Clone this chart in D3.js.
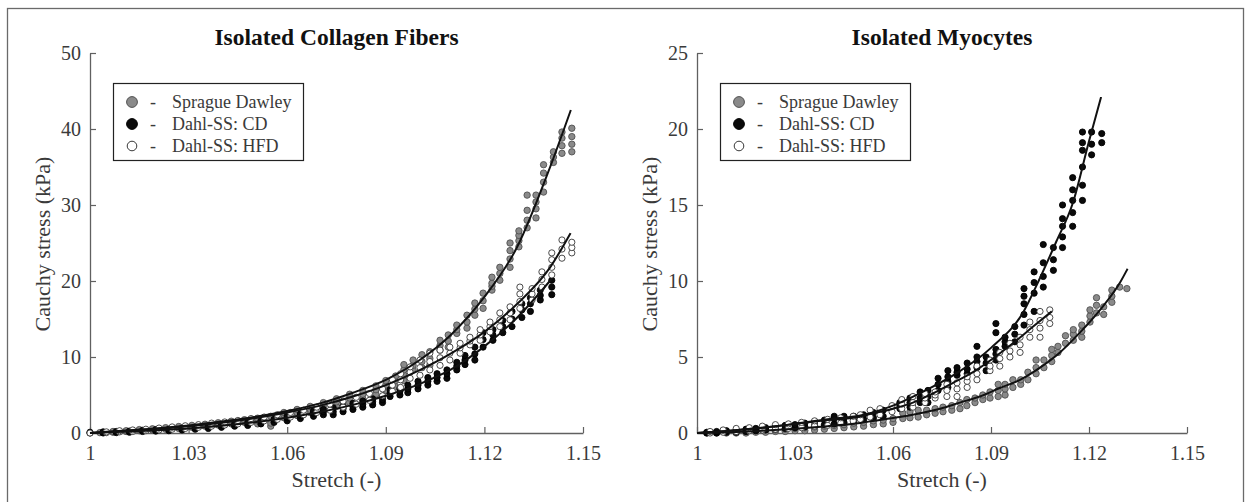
<!DOCTYPE html>
<html><head><meta charset="utf-8">
<script src="https://cdn.jsdelivr.net/npm/d3@7"></script>
<style>
body{margin:0;background:#fff;}
svg{display:block;font-family:"Liberation Serif","Times New Roman",serif;}
</style>
</head><body>
<svg id="c" width="1251" height="502"></svg>
<script>
// ---------- shared labels ----------
const seriesNames = ["Sprague Dawley", "Dahl-SS: CD", "Dahl-SS: HFD"];
const xTicks = [1, 1.03, 1.06, 1.09, 1.12, 1.15];
const fibersYTicks = [0, 10, 20, 30, 40, 50];
const myoYTicks = [0, 5, 10, 15, 20, 25];
const titles = ["Isolated Collagen Fibers", "Isolated Myocytes"];
const xLabel = "Stretch (-)";
const yLabel = "Cauchy stress (kPa)";

// ---------- Isolated Collagen Fibers: columns [stretch, stress...] ----------
const fibersSD = [
 [1.003,0.05],[1.007,0.1,0.2],[1.011,0.2,0.3],[1.015,0.3,0.45],[1.019,0.4,0.55],[1.023,0.5,0.7],
 [1.027,0.6,0.85],[1.031,0.75,1.0],[1.035,0.9,1.15],[1.039,1.05,1.35],[1.043,1.2,1.55],[1.047,1.4,1.75],
 [1.051,1.2,1.6,1.95],[1.055,0.9,1.3,2.2],[1.059,2.0,2.4,2.7],[1.063,2.3,2.7,3.1],[1.067,2.7,3.1,3.5],
 [1.071,3.1,3.6,4.0],[1.075,3.5,4.1,4.5],[1.079,4.0,4.6,5.1],[1.083,4.5,5.1,5.6],[1.087,5.1,5.7,6.2],
 [1.090,5.6,6.3,6.9],[1.093,6.1,6.9,7.5],[1.0955,6.9,7.6,8.3,9.0],[1.0983,8.3,8.9,9.6],[1.101,8.6,9.4,10.3],
 [1.1034,8.9,9.8,10.7],[1.1065,10.9,11.5,12.2],[1.109,11.3,12.1,12.9],[1.1116,13.1,13.6,14.2],
 [1.1147,13.8,14.6,15.5],[1.1171,15.5,16.3,17.1],[1.1196,16.4,17.4,18.4],[1.1223,18.8,19.3,19.7,20.5],
 [1.1247,20.1,21.0,21.8],[1.1278,21.8,22.9,24.0,25.0],[1.1305,24.5,25.3,26.0,26.6],[1.133,27.0,28.0,29.3,31.3],
 [1.1357,28.3,29.5,30.4,31.3],[1.138,31.7,33.0,34.2,35.3],[1.141,35.6,36.3,37.0],[1.1436,36.8,37.8,38.8,39.6],
 [1.1466,37.0,38.0,39.0,40.1]
];
const fibersCD = [
 [1.000,0,0.1],[1.004,0.0,0.15],[1.008,0.05,0.2],[1.012,0.1,0.25],[1.016,0.2,0.35],[1.020,0.25,0.45],
 [1.024,0.3,0.5],[1.028,0.4,0.65],[1.032,0.5,0.75],[1.036,0.6,0.9],[1.040,0.75,1.05],[1.044,0.9,1.2],
 [1.048,1.0,1.4],[1.052,1.2,1.6],[1.056,1.4,1.8],[1.060,1.6,2.0,2.2],[1.064,1.9,2.3,2.5],[1.068,2.2,2.6,2.9],
 [1.071,2.4,2.8,3.1],[1.074,2.4,2.8,3.3],[1.077,2.8,3.2,3.6],[1.080,3.1,3.5,3.9],[1.083,3.4,3.8,4.2],
 [1.086,3.7,4.1,4.5],[1.089,4.0,4.4,4.8],[1.0913,4.8,5.2,5.7],[1.0943,5.0,5.5,5.9],[1.0967,5.3,5.8,6.3],
 [1.0998,5.8,6.3,6.8],[1.1028,6.3,6.8,7.3],[1.1056,6.8,7.3,7.8],[1.1086,7.2,7.8,8.3],[1.1116,8.3,8.8,9.3],
 [1.1141,9.0,9.6,10.2],[1.1171,9.6,10.4,11.3],[1.1196,11.3,12.3,13.2],[1.1226,12.2,12.9,13.6],
 [1.1256,13.2,14.0,14.8],[1.1284,14.0,15.0,16.0],[1.1314,15.2,16.2,17.0],[1.134,16.0,17.0,17.8],
 [1.137,17.5,18.1,18.8],[1.1405,18.2,19.2,20.1]
];
const fibersHFD = [
 [1.000,0.0],[1.005,0.05,0.15],[1.009,0.15,0.3],[1.013,0.2,0.4],[1.017,0.3,0.5],[1.021,0.4,0.65],
 [1.025,0.5,0.8],[1.029,0.6,0.95],[1.033,0.75,1.1],[1.037,0.9,1.3],[1.041,1.05,1.45],[1.045,1.2,1.65],
 [1.049,1.4,1.9],[1.053,1.6,2.1],[1.057,1.8,2.4],[1.061,2.1,2.7],[1.065,2.4,3.0],[1.069,2.7,3.4],
 [1.073,3.0,3.8],[1.077,3.4,4.2],[1.081,3.8,4.7],[1.085,4.3,5.2],[1.089,4.9,5.8],[1.092,5.5,6.3,7.0],
 [1.0945,6.0,7.0,7.8],[1.0974,7.2,8.0,8.7],[1.1004,7.6,8.6,9.6],[1.1034,8.3,9.4,10.5],[1.1065,8.9,9.9,10.9],
 [1.1095,9.6,10.5,11.3],[1.1126,10.5,11.2,11.8],[1.1156,11.6,12.1,12.6],[1.1187,12.2,12.9,13.6],
 [1.1217,13.3,14.0,14.6],[1.1247,14.0,14.9,15.8],[1.1278,14.9,15.8,16.6],[1.1308,16.4,17.3,18.3,19.2],
 [1.1345,17.5,18.3,19.0],[1.1375,19.2,20.2,21.2],[1.1405,20.8,21.8,22.8,23.7],[1.1436,23.0,24.2,25.4],
 [1.1466,23.7,24.4,25.1]
];
// fitted curves: [stretch, stress]
const fibersFitSD = [[1,0],[1.01,0.3],[1.02,0.6],[1.03,1.0],[1.04,1.5],[1.05,2.1],[1.06,2.9],[1.07,3.9],
 [1.08,5.3],[1.09,7.0],[1.10,9.5],[1.11,13.0],[1.12,17.9],[1.13,24.5],[1.14,35.0],[1.1463,42.5]];
const fibersFitHFD = [[1,0],[1.01,0.25],[1.02,0.55],[1.03,0.9],[1.04,1.35],[1.05,1.95],[1.06,2.7],[1.07,3.6],
 [1.08,4.8],[1.09,6.3],[1.10,8.2],[1.11,10.5],[1.12,13.3],[1.13,17.0],[1.14,21.8],[1.1462,26.3]];
const fibersFitCD = [[1,0],[1.01,0.15],[1.02,0.35],[1.03,0.6],[1.04,0.95],[1.05,1.4],[1.06,2.0],[1.07,2.75],
 [1.08,3.7],[1.09,4.9],[1.10,6.4],[1.11,8.4],[1.12,11.4],[1.13,15.2],[1.1405,20.3]];

// ---------- Isolated Myocytes ----------
const myoSD = [
 [1.003,0.0],[1.006,0.0,0.05],[1.009,0.0,0.05],[1.012,0.0,0.1],[1.015,0.0,0.1],[1.018,0.05,0.15],
 [1.021,0.05,0.2],[1.024,0.1,0.2],[1.027,0.1,0.25],[1.030,0.15,0.3],[1.033,0.15,0.35],[1.036,0.2,0.4],
 [1.039,0.25,0.45],[1.042,0.3,0.5],[1.045,0.35,0.55],[1.048,0.4,0.65],[1.051,0.45,0.7],[1.054,0.55,0.8],
 [1.057,0.6,0.85],[1.060,0.7,0.95],[1.063,0.95,1.3],[1.0652,1.0,1.4],[1.0677,1.05,1.5],[1.0703,1.2,1.5],
 [1.0729,1.3,1.6],[1.0753,1.4,1.7],[1.078,1.5,1.8],[1.0805,1.6,2.0],[1.0826,1.8,2.2],[1.0851,2.0,2.3],
 [1.0875,2.2,2.5],[1.0897,2.3,2.7],[1.0922,2.4,2.8,3.2],[1.0943,2.5,2.9,3.2],[1.0967,3.0,3.5],
 [1.0991,3.2,3.5],[1.1013,3.5,4.0],[1.1038,3.9,4.3,4.8],[1.1062,4.3,4.8],[1.1086,4.7,5.1,5.5],
 [1.1105,5.3,5.7],[1.1128,5.9,6.4],[1.1152,6.1,6.5,6.8],[1.1178,6.3,6.7,7.1],[1.1203,7.3,7.7,8.1],
 [1.1223,7.9,8.4,8.9],[1.1245,7.8,8.3],[1.1270,8.6,9.0,9.4],[1.1294,9.6],[1.1316,9.5]
];
const myoCD = [
 [1.003,0.0,0.05],[1.006,0.0,0.1],[1.009,0.05,0.15],[1.012,0.05,0.2],[1.015,0.1,0.25],[1.018,0.15,0.3],
 [1.021,0.2,0.35],[1.024,0.25,0.4],[1.027,0.3,0.5],[1.030,0.35,0.55],[1.033,0.4,0.65],[1.036,0.5,0.75],
 [1.039,0.55,0.85],[1.042,0.6,0.95,1.1],[1.045,0.7,1.0,1.1],[1.048,0.8,1.1],[1.051,0.9,1.2],[1.054,1.0,1.35],
 [1.057,1.1,1.5],[1.0621,1.6,1.8,2.0],[1.0652,1.7,2.0,2.3],[1.0683,2.0,2.3,2.7],[1.0707,2.0,2.4,2.8],
 [1.0738,2.8,3.2,3.6],[1.0768,3.0,3.4,3.7,4.1],[1.0796,3.8,4.0,4.3],[1.0827,3.9,4.2,4.6],
 [1.0857,4.3,4.7,5.0,5.7],[1.0885,4.1,4.6,5.0],[1.0915,4.8,5.2,5.5,6.6,7.2],[1.0943,5.7,6.0,6.3],
 [1.0973,6.0,6.5,7.0],[1.1001,7.1,7.8,8.5,9.0,9.5],[1.1032,8.0,9.2,9.9,10.6],[1.1060,9.6,10.3,11.2,12.4],
 [1.1091,10.7,11.4,12.2],[1.1119,12.2,12.9,13.6,14.1,15.0],[1.1150,13.6,14.5,15.3,16.0,16.8],
 [1.1180,15.3,16.3,17.5,18.6,19.1,19.8],[1.1208,18.3,19.0,19.8],[1.1239,19.1,19.7]
];
const myoHFD = [
 [1.004,0.0,0.1],[1.008,0.05,0.2],[1.012,0.1,0.3],[1.016,0.15,0.35],[1.020,0.2,0.45],[1.024,0.25,0.55],
 [1.028,0.3,0.6],[1.032,0.35,0.7],[1.036,0.45,0.8],[1.040,0.5,0.9],[1.044,0.65,1.0],[1.0478,0.8,1.1],
 [1.050,0.9,1.2],[1.053,1.05,1.5],[1.056,1.2,1.6],[1.0597,1.4,1.8],[1.0627,1.6,1.9,2.2],[1.0661,1.7,2.0,2.4],
 [1.0698,2.0,2.3,2.6],[1.0729,2.3,2.5,2.7],[1.0765,2.4,2.8,3.2],[1.0796,2.4,2.9,3.3],[1.0827,3.0,3.4,3.7],
 [1.0857,3.5,3.9,4.4],[1.0897,4.1,4.4,4.8],[1.0927,4.4,4.9,5.3],[1.0958,5.0,5.4,5.9],[1.0989,5.3,5.8,6.3],
 [1.1019,6.3,6.8,7.3],[1.105,6.3,6.9,7.4,8.0],[1.108,7.2,7.6,8.1]
];
const myoFitSD = [[1,0],[1.01,0.05],[1.02,0.15],[1.03,0.28],[1.04,0.45],[1.05,0.66],[1.056,0.86],[1.062,1.05],
 [1.0683,1.3],[1.0744,1.6],[1.0805,2.0],[1.0866,2.4],[1.0927,2.96],[1.0989,3.5],[1.105,4.3],[1.1111,5.3],
 [1.1172,6.6],[1.1234,8.1],[1.1295,9.9],[1.1318,10.8]];
const myoFitCD = [[1,0],[1.01,0.15],[1.02,0.35],[1.03,0.6],[1.04,0.9],[1.05,1.15],[1.06,1.8],[1.07,2.8],
 [1.08,4.0],[1.09,5.6],[1.10,8.0],[1.105,10.2],[1.11,12.6],[1.115,15.1],[1.12,19.2],[1.1237,22.1]];
const myoFitHFD = [[1,0],[1.01,0.15],[1.02,0.35],[1.03,0.6],[1.04,0.85],[1.0478,1.0],[1.054,1.3],[1.06,1.6],
 [1.0661,2.0],[1.0722,2.6],[1.0784,3.3],[1.0845,4.0],[1.0906,4.9],[1.0967,5.9],[1.1029,7.0],[1.1086,8.0]];

// ---------- drawing ----------
const svg = d3.select("#c");
const INK = "#3a3a3a", AXIS = "#606060";
svg.append("rect").attr("x",7.5).attr("y",8.5).attr("width",1236).attr("height",530)
  .attr("fill","none").attr("stroke","#6a6a6a").attr("stroke-width",1.3);

const styles = [
  {fill:"#8a8a8a", stroke:"#505050", r:3.2, lr:5.4},
  {fill:"#0a0a0a", stroke:"#000", r:3.1, lr:5.4},
  {fill:"#ffffff", stroke:"#383838", r:3.1, lr:4.8}
];

function flatten(cols){ return cols.flatMap(([s,...vs]) => vs.map(v => ({s, v}))); }

function panel(cfg){
  const x = d3.scaleLinear().domain([1,1.15]).range([cfg.x0, cfg.x1]);
  const y = d3.scaleLinear().domain([0, cfg.yMax]).range([433, 53]);
  const g = svg.append("g");

  const ya = g.append("g").attr("transform",`translate(${cfg.x0},0)`)
    .call(d3.axisLeft(y).tickValues(cfg.yTicks).tickSizeInner(-6).tickSizeOuter(0).tickPadding(9).tickFormat(d3.format("d")));
  const xa = g.append("g").attr("transform","translate(0,433)")
    .call(d3.axisBottom(x).tickValues(xTicks).tickSizeInner(-6).tickSizeOuter(0).tickPadding(13)
      .tickFormat(d => d === 1 ? "1" : d3.format(".2f")(d)));
  [ya, xa].forEach(a => {
    a.select(".domain").attr("stroke", AXIS).attr("stroke-width",1.3);
    a.selectAll(".tick line").attr("stroke", AXIS).attr("stroke-width",1.2);
    a.selectAll(".tick text").attr("fill", INK).attr("font-size",20)
      .attr("font-family",'"Liberation Serif","Times New Roman",serif');
  });

  // points
  cfg.series.forEach((cols, i) => {
    const st = styles[i];
    g.append("g").selectAll("circle").data(flatten(cols)).join("circle")
      .attr("cx", d => x(d.s)).attr("cy", d => y(d.v)).attr("r", st.r)
      .attr("fill", st.fill).attr("stroke", st.stroke).attr("stroke-width", 0.9);
  });
  // fits
  const line = d3.line().x(d => x(d[0])).y(d => y(d[1])).curve(d3.curveMonotoneX);
  cfg.fits.forEach(f => {
    g.append("path").attr("d", line(f)).attr("fill","none").attr("stroke","#111").attr("stroke-width",2);
  });

  // title & labels
  const cx = (cfg.x0 + cfg.x1)/2;
  g.append("text").attr("x", cx).attr("y", 45).attr("text-anchor","middle")
    .attr("font-size",23.5).attr("font-weight","bold").attr("fill","#111").text(cfg.title);
  g.append("text").attr("x", cx).attr("y", 487).attr("text-anchor","middle")
    .attr("font-size",22).attr("fill",INK).text(xLabel);
  g.append("text").attr("transform",`translate(${cfg.x0-40},244) rotate(-90)`).attr("text-anchor","middle")
    .attr("font-size",22).attr("fill",INK).text(yLabel);

  // legend
  const lx = cfg.x0 + 23, ly = 83;
  const lg = g.append("g");
  lg.append("rect").attr("x", lx+0.5).attr("y", ly+0.5).attr("width", 190).attr("height", 77)
    .attr("fill","#fff").attr("stroke","#222").attr("stroke-width",1.2);
  seriesNames.forEach((name, i) => {
    const cy = ly + 19 + i*22;
    const st = styles[i];
    lg.append("circle").attr("cx", lx+19).attr("cy", cy).attr("r", st.lr)
      .attr("fill", st.fill).attr("stroke", st.stroke).attr("stroke-width", 1);
    lg.append("text").attr("x", lx+37).attr("y", cy+6).attr("font-size",18).attr("fill",INK).text("-");
    lg.append("text").attr("x", lx+59).attr("y", cy+6).attr("font-size",18).attr("fill",INK).text(name);
  });
}

panel({x0:90, x1:583, yMax:50, yTicks:fibersYTicks, title:titles[0],
  series:[fibersSD, fibersCD, fibersHFD], fits:[fibersFitSD, fibersFitHFD, fibersFitCD]});
panel({x0:697, x1:1187, yMax:25, yTicks:myoYTicks, title:titles[1],
  series:[myoSD, myoCD, myoHFD], fits:[myoFitSD, myoFitCD, myoFitHFD]});
</script>
</body></html>
